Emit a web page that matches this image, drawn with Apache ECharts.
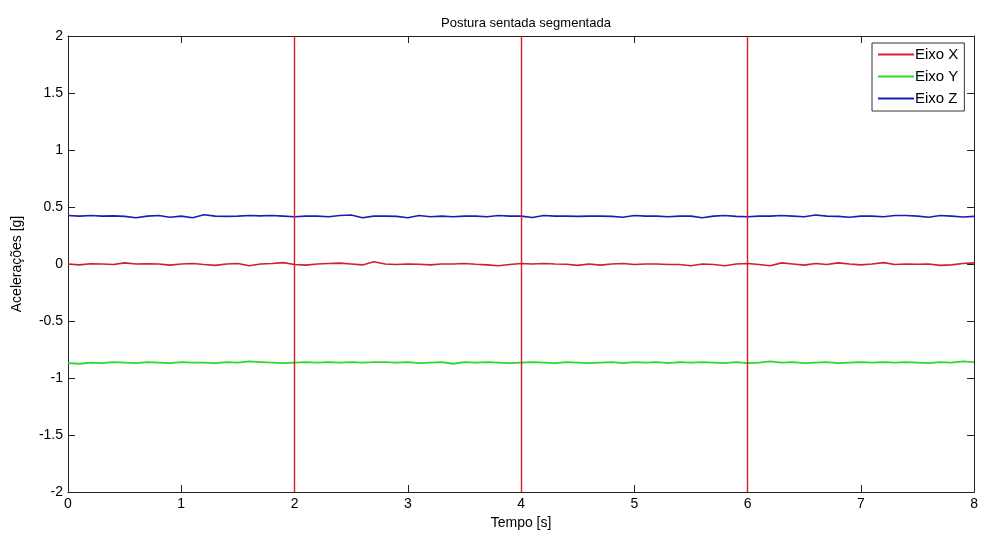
<!DOCTYPE html>
<html><head><meta charset="utf-8">
<script src="https://cdn.jsdelivr.net/npm/echarts@6/dist/echarts.min.js"></script>
<style>html,body{margin:0;padding:0;background:#fff}#c{width:981px;height:538px}</style>
</head><body><div id="c"></div>
<script>
const title = 'Postura sentada segmentada';
const xLabel = 'Tempo [s]';
const yLabel = 'Acelerações [g]';
const seriesNames = ['Eixo X', 'Eixo Y', 'Eixo Z'];
const timeStep = 0.1;
const segmentMarks = [2, 4, 6];
const eixoX = [0.0,-0.008,0.002,0.0,-0.005,0.01,0.0,0.002,0.0,-0.01,0.0,0.005,-0.005,-0.012,0.0,0.005,-0.015,0.0,0.005,0.012,
 -0.005,-0.01,0.0,0.005,0.008,0.0,-0.008,0.02,0.0,-0.005,0.0,-0.002,-0.008,0.0,0.0,0.005,-0.002,-0.008,-0.015,-0.005,
 0.005,0.0,0.005,0.0,-0.002,-0.012,0.0,-0.01,0.0,0.005,-0.005,0.0,0.0,-0.005,-0.005,-0.015,0.0,-0.005,-0.015,0.0,
 0.005,-0.005,-0.015,0.01,0.0,-0.01,0.005,-0.005,0.01,0.0,-0.008,0.0,0.012,-0.005,0.0,-0.002,0.0,-0.012,-0.008,0.005,0.01];
const eixoY = [-0.87,-0.875,-0.865,-0.87,-0.86,-0.865,-0.87,-0.86,-0.865,-0.87,-0.86,-0.865,-0.865,-0.87,-0.86,-0.865,-0.855,-0.86,-0.865,-0.87,
 -0.865,-0.86,-0.865,-0.86,-0.865,-0.86,-0.865,-0.86,-0.86,-0.865,-0.86,-0.87,-0.865,-0.86,-0.875,-0.86,-0.865,-0.86,-0.865,-0.87,
 -0.865,-0.86,-0.865,-0.87,-0.86,-0.865,-0.87,-0.865,-0.86,-0.87,-0.86,-0.865,-0.86,-0.87,-0.86,-0.865,-0.86,-0.865,-0.87,-0.86,
 -0.87,-0.865,-0.855,-0.865,-0.86,-0.87,-0.865,-0.86,-0.87,-0.865,-0.86,-0.865,-0.86,-0.865,-0.86,-0.865,-0.87,-0.86,-0.865,-0.855,-0.86];
const eixoZ = [0.425,0.42,0.425,0.42,0.422,0.418,0.405,0.42,0.425,0.41,0.42,0.405,0.432,0.42,0.418,0.42,0.425,0.422,0.425,0.42,
 0.415,0.42,0.42,0.415,0.425,0.43,0.405,0.42,0.42,0.418,0.405,0.425,0.415,0.42,0.415,0.42,0.42,0.415,0.425,0.42,
 0.42,0.408,0.425,0.42,0.42,0.418,0.42,0.42,0.418,0.41,0.425,0.42,0.42,0.415,0.42,0.42,0.405,0.42,0.425,0.418,
 0.415,0.42,0.42,0.425,0.42,0.415,0.43,0.42,0.418,0.41,0.42,0.42,0.415,0.425,0.425,0.42,0.41,0.425,0.42,0.412,0.418];

const colors = ['#cc2229', '#2fd82f', '#1c1cb4'];
const markColor = '#d0202a';
const font = '"Liberation Sans", Arial, sans-serif';
const pts = arr => arr.map((v, i) => [+(i * timeStep).toFixed(2), v]);

const axisCommon = () => ({
  axisLine: {show: true, onZero: false, lineStyle: {color: '#222', width: 1}},
  axisTick: {show: true, inside: true, length: 7, lineStyle: {color: '#222'}},
  splitLine: {show: false}
});
const chart = echarts.init(document.getElementById('c'));
chart.setOption({
  animation: false,
  backgroundColor: '#fff',
  title: {text: title, left: 521, textAlign: 'center', top: 12,
    textStyle: {fontFamily: font, fontSize: 13, fontWeight: 'normal', color: '#000'}},
  grid: {left: 68, right: 6, top: 36, bottom: 46},
  legend: {
    data: seriesNames, orient: 'vertical', left: 872, top: 43,
    backgroundColor: '#fff', borderColor: '#333', borderWidth: 1,
    padding: [4, 6, 5, 6], itemGap: 7, itemWidth: 36, itemHeight: 2, icon: 'rect',
    textStyle: {fontFamily: font, fontSize: 15, color: '#000', padding: [0, 0, 0, -4]}
  },
  xAxis: [
    Object.assign(axisCommon(), {type: 'value', min: 0, max: 8, interval: 1, position: 'bottom',
      name: xLabel, nameLocation: 'middle', nameGap: 24,
      nameTextStyle: {fontFamily: font, fontSize: 14, color: '#000'},
      axisLabel: {fontFamily: font, fontSize: 14, color: '#000', margin: 5}}),
    Object.assign(axisCommon(), {type: 'value', min: 0, max: 8, interval: 1, position: 'top',
      axisLabel: {show: false}})
  ],
  yAxis: [
    Object.assign(axisCommon(), {type: 'value', min: -2, max: 2, interval: 0.5, position: 'left',
      name: yLabel, nameLocation: 'middle', nameGap: 44, nameRotate: 90,
      nameTextStyle: {fontFamily: font, fontSize: 14, color: '#000'},
      axisLabel: {fontFamily: font, fontSize: 14, color: '#000', margin: 5}}),
    Object.assign(axisCommon(), {type: 'value', min: -2, max: 2, interval: 0.5, position: 'right',
      axisLabel: {show: false}})
  ],
  series: [
    {name: seriesNames[0], type: 'line', data: pts(eixoX), showSymbol: false, symbol: 'none',
      lineStyle: {color: colors[0], width: 1.6}, itemStyle: {color: colors[0]},
      markLine: {silent: true, symbol: 'none', label: {show: false},
        lineStyle: {color: markColor, width: 1.4, type: 'solid', opacity: 1},
        data: segmentMarks.map(v => ({xAxis: v}))}},
    {name: seriesNames[1], type: 'line', data: pts(eixoY), showSymbol: false, symbol: 'none',
      lineStyle: {color: colors[1], width: 1.8}, itemStyle: {color: colors[1]}},
    {name: seriesNames[2], type: 'line', data: pts(eixoZ), showSymbol: false, symbol: 'none',
      lineStyle: {color: colors[2], width: 1.6}, itemStyle: {color: colors[2]}}
  ]
});
</script></body></html>
